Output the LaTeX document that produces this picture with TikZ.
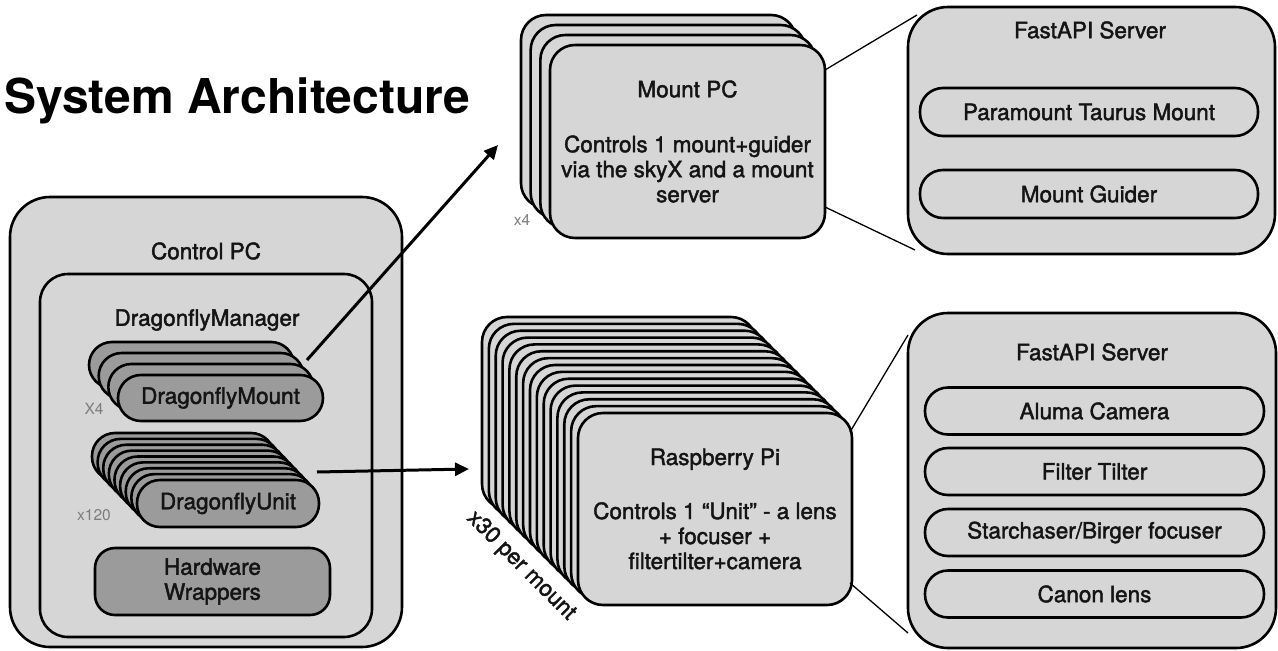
\documentclass[tikz,border=0pt]{standalone}
\usepackage{fontspec}
\setmainfont{TeX Gyre Heros}
\newfontfamily\medfont{TeX Gyre Heros}[FakeBold=1.8]
\usetikzlibrary{arrows.meta,calc}
\definecolor{boxlight}{RGB}{214,214,214}
\definecolor{boxdark}{RGB}{155,155,155}
\definecolor{labelgray}{RGB}{125,125,125}
\definecolor{ink}{RGB}{20,20,20}
\begin{document}
\begin{tikzpicture}[x=1pt,y=-1pt,
  panel/.style={draw=black, line width=2.6pt, fill=boxlight, rounded corners=#1,
    inner sep=0pt, outer sep=0pt, anchor=north west},
  darkpanel/.style={panel=#1, fill=boxdark},
  pillbox/.style={draw=black, line width=2.6pt, fill=boxlight, rounded corners=23pt,
    inner sep=0pt, minimum width=338pt, minimum height=47pt, text=ink,
    font=\medfont\fontsize{22.5}{25}\selectfont},
  txt/.style={inner sep=0pt, text=ink, font=\medfont\fontsize{22.5}{25}\selectfont},
  lbl/.style={inner sep=0pt, text=labelgray, font=\fontsize{15.5}{17}\selectfont},
  thinline/.style={draw=black, line width=1.3pt},
  bigarrow/.style={draw=black, line width=3pt, -{Triangle[length=14pt,width=13pt]}}
]
\useasboundingbox (0,0) rectangle (1278,651);

% Title
\node[anchor=base west, inner sep=0pt, font=\bfseries\fontsize{48}{56}\selectfont] (title) at (4,113) {System Architecture};

% Control PC
\node[panel=40pt, minimum width=392pt, minimum height=450pt] (ctrl) at (10,197) {};
\node[txt] (ctrllbl) at (206,251) {Control PC};
\node[panel=28pt, minimum width=332pt, minimum height=363pt] (mgr) at (40,274) {};
\node[txt] (mgrlbl) at (207,320) {DragonflyManager};

% DragonflyMount stack
\foreach \i in {0,...,2}
  \node[darkpanel=23pt, minimum width=205pt, minimum height=46pt] (dm\i) at ({89+9.67*\i},{342+11*\i}) {};
\node[darkpanel=23pt, minimum width=205pt, minimum height=46pt, txt] (dmount) at (118,375) {DragonflyMount};
\node[lbl] (x4a) at (94,409) {X4};

% DragonflyUnit stack
\foreach \i in {0,...,7}
  \node[darkpanel=23pt, minimum width=182pt, minimum height=47pt] (du\i) at ({92+5.625*\i},{433+5.875*\i}) {};
\node[darkpanel=23pt, minimum width=182pt, minimum height=47pt, txt] (dunit) at (137,480) {DragonflyUnit};
\node[lbl] (x120) at (94,515) {x120};

% Hardware wrappers
\node[darkpanel=20pt, minimum width=235pt, minimum height=67pt, txt, align=center] (hw) at (95,548) {Hardware\\Wrappers};

% Mount PC stack
\foreach \i in {0,...,2}
  \node[panel=25pt, minimum width=275pt, minimum height=193pt] (mp\i) at ({521+9.67*\i},{15+10*\i}) {};
\node[panel=25pt, minimum width=275pt, minimum height=193pt, txt, align=center] (mpc) at (550,45)
  {Mount PC\\[30pt]Controls 1 mount+guider\\via the skyX and a mount\\server};
\node[lbl] (x4b) at (522,220) {x4};

% Raspberry Pi stack
\foreach \i in {0,...,13}
  \node[panel=25pt, minimum width=274pt, minimum height=192pt] (rp\i) at ({482+6.857*\i},{317+6.857*\i}) {};
\node[panel=25pt, minimum width=274pt, minimum height=192pt, txt, align=center] (rpi) at (578,413)
  {Raspberry Pi\\[29pt]Controls 1 “Unit” - a lens\\+ focuser +\\filtertilter+camera};
\node[inner sep=0pt, rotate=-45, text=ink, font=\medfont\fontsize{22.5}{25}\selectfont] (x30) at (521,566) {x30 per mount};

% FastAPI server (top)
\node[panel=40pt, minimum width=367pt, minimum height=247pt] (fa1) at (908,7) {};
\node[txt] (fa1lbl) at (1090,30) {FastAPI Server};
\node[pillbox, minimum height=48pt] (ptm) at (1089,112) {Paramount Taurus Mount};
\node[pillbox, minimum height=48pt] (mg) at (1089,194) {Mount Guider};

% FastAPI server (bottom)
\node[panel=40pt, minimum width=368pt, minimum height=335pt] (fa2) at (908,313) {};
\node[txt] (fa2lbl) at (1092,352) {FastAPI Server};
\node[pillbox, minimum width=339pt] (alu) at (1094.5,411) {Aluma Camera};
\node[pillbox, minimum width=339pt] (ft) at (1094.5,471.5) {Filter Tilter};
\node[pillbox, minimum width=339pt] (sbf) at (1094.5,532.5) {Starchaser/Birger focuser};
\node[pillbox, minimum width=339pt] (cl) at (1094.5,594) {Canon lens};

% zoom connectors
\draw[thinline] ($(mpc.north east)+(0,25)$) -- ($(fa1.north west)+(9,8)$);
\draw[thinline] ($(mpc.south east)+(0,-31)$) -- ($(fa1.south west)+(7,-4)$);
\draw[thinline] ($(rpi.north east)+(-2,19)$) -- ($(fa2.north west)+(0,22)$);
\draw[thinline] ($(rpi.south east)+(-2,-22)$) -- ($(fa2.south west)+(0,-15)$);

% arrows
\coordinate (a1s) at (307,360);
\coordinate (a1e) at (498,145);
\coordinate (a2s) at (317,472);
\coordinate (a2e) at (469,469);
\draw[bigarrow] (a1s) -- (a1e);
\draw[bigarrow] (a2s) -- (a2e);
\end{tikzpicture}
\end{document}
